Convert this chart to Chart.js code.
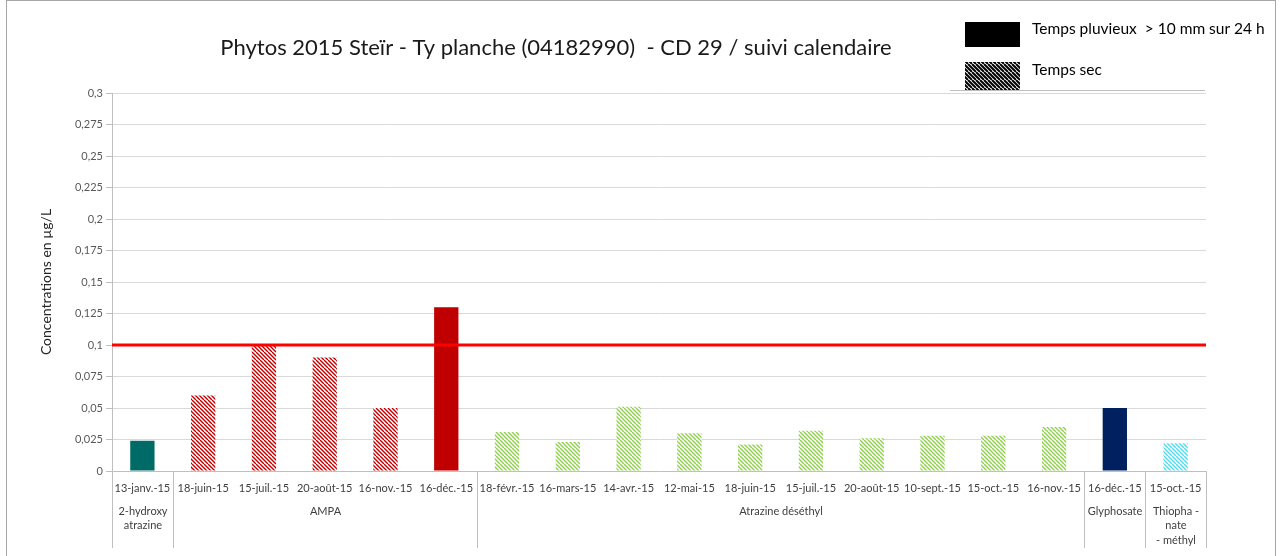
<!DOCTYPE html>
<html>
<head>
<meta charset="utf-8">
<script src="https://cdn.jsdelivr.net/npm/chart.js@4"></script>
<style>
  body { margin: 0; background: #fff; }
  #wrap { width: 1281px; height: 556px; position: relative; }
</style>
</head>
<body>
<div id="wrap"><canvas id="phytoChart"></canvas></div>
<script>
const dates = ['13-janv.-15', '18-juin-15', '15-juil.-15', '20-août-15', '16-nov.-15', '16-déc.-15',
  '18-févr.-15', '16-mars-15', '14-avr.-15', '12-mai-15', '18-juin-15', '15-juil.-15',
  '20-août-15', '10-sept.-15', '15-oct.-15', '16-nov.-15', '16-déc.-15', '15-oct.-15'];
const concentrations = [0.024, 0.06, 0.1, 0.09, 0.05, 0.13,
  0.031, 0.023, 0.051, 0.030, 0.021, 0.032, 0.026, 0.028, 0.028, 0.035,
  0.05, 0.022];
// true = temps pluvieux (> 10 mm sur 24 h), false = temps sec
const pluvieux = [true, false, false, false, false, true,
  false, false, false, false, false, false, false, false, false, false,
  true, false];
const molecules = [['2-hydroxy', 'atrazine'], ['AMPA'], ['Atrazine déséthyl'], ['Glyphosate'], ['Thiopha -', 'nate', '- méthyl']];
const nbParMolecule = [1, 5, 10, 1, 1];
const seuil = 0.1;

const couleurs = ['#006a67', '#c00000', '#92d050', '#002060', '#4ddbef'];

function hachure(color, lw) {
  const c = document.createElement('canvas');
  c.width = 8; c.height = 8;
  const g = c.getContext('2d');
  g.fillStyle = '#fff';
  g.fillRect(0, 0, 8, 8);
  g.strokeStyle = color;
  g.lineWidth = lw || 1.4;
  for (let x = -8; x <= 8; x += 4) {
    g.beginPath();
    g.moveTo(x, 0);
    g.lineTo(x + 8, 8);
    g.stroke();
  }
  return g.createPattern(c, 'repeat');
}

// colour of each bar from its molecule group
const groupeIdx = [];
nbParMolecule.forEach((n, gi) => { for (let k = 0; k < n; k++) groupeIdx.push(gi); });
const fonds = concentrations.map((v, i) => {
  const col = couleurs[groupeIdx[i]];
  return pluvieux[i] ? col : hachure(col);
});

const decor = {
  id: 'decor',
  beforeDraw(chart) {
    const ctx = chart.ctx;
    ctx.save();
    ctx.strokeStyle = '#a6a6a6';
    ctx.lineWidth = 1;
    ctx.strokeRect(6.5, 0.5, 1269, 560);
    ctx.restore();
  },
  afterDatasetsDraw(chart) {
    const ctx = chart.ctx;
    const area = chart.chartArea;
    const x = chart.scales.x, y = chart.scales.y;
    ctx.save();
    // seuil
    const ys = y.getPixelForValue(seuil);
    ctx.strokeStyle = '#ff0000';
    ctx.lineWidth = 3;
    ctx.beginPath();
    ctx.moveTo(area.left, ys);
    ctx.lineTo(area.right, ys);
    ctx.stroke();

    // molecule groups
    const w = x.width / dates.length;
    ctx.strokeStyle = '#bfbfbf';
    ctx.lineWidth = 1;
    ctx.fillStyle = '#404040';
    ctx.font = '11px Lato';
    ctx.textAlign = 'center';
    ctx.textBaseline = 'middle';
    let start = 0;
    const edge = i => Math.round(x.getPixelForValue(i) - w / 2) + 0.5;
    ctx.beginPath();
    ctx.moveTo(edge(0), area.bottom); ctx.lineTo(edge(0), 548);
    ctx.stroke();
    nbParMolecule.forEach((n, gi) => {
      const end = start + n;
      const xe = edge(end);
      ctx.beginPath();
      ctx.moveTo(xe, area.bottom); ctx.lineTo(xe, 548);
      ctx.stroke();
      const xc = (edge(start) + xe) / 2;
      molecules[gi].forEach((l, li) => ctx.fillText(l, xc, 511 + li * 14.5));
      start = end;
    });

    // title
    ctx.fillStyle = '#1a1a1a';
    ctx.font = '22px Lato';
    ctx.fillText('Phytos 2015 Steïr - Ty planche (04182990)  - CD 29 / suivi calendaire', 556, 48);

    // y title
    ctx.save();
    ctx.translate(46, 282);
    ctx.rotate(-Math.PI / 2);
    ctx.font = '14px Lato';
    ctx.fillStyle = '#262626';
    ctx.fillText('Concentrations en µg/L', 0, 0);
    ctx.restore();

    // legend
    ctx.fillStyle = '#000';
    ctx.fillRect(965, 22, 55, 25);
    ctx.fillStyle = hachure('#000', 2);
    ctx.fillRect(965, 62, 55, 28);
    ctx.fillStyle = '#000';
    ctx.textAlign = 'left';
    ctx.font = '15.5px Lato';
    ctx.fillText('Temps pluvieux  > 10 mm sur 24 h', 1032, 29);
    ctx.fillText('Temps sec', 1032, 70);
    ctx.strokeStyle = '#bfbfbf';
    ctx.beginPath();
    ctx.moveTo(950, 90.5); ctx.lineTo(1205, 90.5);
    ctx.stroke();
    ctx.restore();
  }
};

new Chart(document.getElementById('phytoChart'), {
  type: 'bar',
  data: {
    labels: dates,
    datasets: [{
      label: 'Concentrations',
      data: concentrations,
      backgroundColor: fonds,
      categoryPercentage: 1,
      barPercentage: 0.4
    }]
  },
  options: {
    responsive: true,
    maintainAspectRatio: false,
    animation: false,
    layout: { padding: { top: 93, right: 75, left: 0, bottom: 0 } },
    plugins: {
      legend: { display: false },
      title: { display: false },
      tooltip: { enabled: false }
    },
    scales: {
      x: {
        grid: { display: false, drawTicks: false },
        border: { display: true, color: '#bfbfbf' },
        ticks: {
          autoSkip: false, maxRotation: 0, minRotation: 0, padding: 11,
          color: '#404040', font: { family: 'Lato', size: 11 }
        },
        afterFit(axis) { axis.height = 85; }
      },
      y: {
        min: 0, max: 0.3,
        grid: { color: '#d9d9d9', tickLength: 6, tickColor: '#bfbfbf' },
        border: { display: true, color: '#bfbfbf' },
        ticks: {
          stepSize: 0.025, padding: 3,
          color: '#595959', font: { family: 'Lato', size: 11 },
          callback: v => String(+v.toFixed(3)).replace('.', ',')
        },
        afterFit(axis) { axis.width = 112; }
      }
    }
  },
  plugins: [decor]
});
</script>
</body>
</html>
